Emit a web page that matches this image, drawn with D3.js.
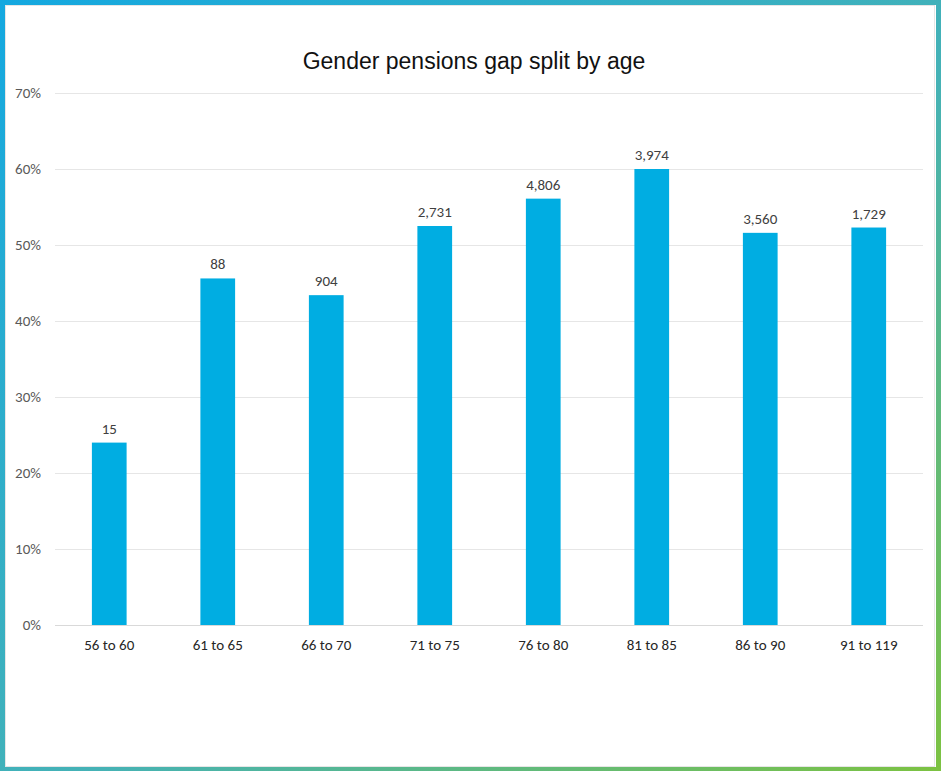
<!DOCTYPE html>
<html>
<head>
<meta charset="utf-8">
<script src="https://cdn.jsdelivr.net/npm/d3@7"></script>
<style>
  html, body { margin: 0; padding: 0; background: #fff; }
  svg { display: block; font-family: Carlito, Calibri, Lato, "Open Sans", sans-serif; }
</style>
</head>
<body>
<svg width="941" height="771"></svg>
<script>
const width = 941;
const height = 771;

// data
const ageBands = ["56 to 60", "61 to 65", "66 to 70", "71 to 75", "76 to 80", "81 to 85", "86 to 90", "91 to 119"];
const gapPct   = [24.0, 45.6, 43.4, 52.5, 56.1, 60.0, 51.6, 52.3];
const counts   = ["15", "88", "904", "2,731", "4,806", "3,974", "3,560", "1,729"];
const yTicks   = [0, 10, 20, 30, 40, 50, 60, 70];

const margin = { top: 93, right: 18, bottom: 146, left: 55 };
const labelFont = "Carlito, Calibri, Lato, sans-serif";

const svg = d3.select("svg");

// frame with diagonal gradient
const defs = svg.append("defs");
const grad = defs.append("linearGradient")
  .attr("id", "frame")
  .attr("x1", "0%").attr("y1", "0%")
  .attr("x2", "100%").attr("y2", "100%");
grad.append("stop").attr("offset", "0%").attr("stop-color", "#14a8e0");
grad.append("stop").attr("offset", "55%").attr("stop-color", "#45b2b6");
grad.append("stop").attr("offset", "100%").attr("stop-color", "#7cc242");

svg.append("rect")
  .attr("x", 2.5).attr("y", 2.5)
  .attr("width", width - 5).attr("height", height - 4)
  .attr("fill", "none")
  .attr("stroke", "url(#frame)")
  .attr("stroke-width", 5);

// faint inner shadow line
svg.append("rect")
  .attr("x", 5.5).attr("y", 5.5)
  .attr("width", width - 12).attr("height", height - 10)
  .attr("fill", "none")
  .attr("stroke", "#e6e6e6")
  .attr("stroke-width", 1);

const x = d3.scaleBand()
  .domain(ageBands)
  .range([margin.left, width - margin.right])
  .paddingInner(0.68)
  .paddingOuter(0.34);

const y = d3.scaleLinear()
  .domain([0, 70])
  .range([height - margin.bottom, margin.top]);

// gridlines
svg.append("g")
  .selectAll("line")
  .data(yTicks)
  .join("line")
    .attr("x1", margin.left)
    .attr("x2", width - margin.right)
    .attr("y1", d => Math.round(y(d)) + 0.5)
    .attr("y2", d => Math.round(y(d)) + 0.5)
    .attr("stroke", d => d === 0 ? "#d9d9d9" : "#e6e6e6")
    .attr("stroke-width", 1);

// y axis labels
const yAxis = d3.axisLeft(y)
  .tickValues(yTicks)
  .tickFormat(d => d + "%")
  .tickSize(0)
  .tickPadding(14);

svg.append("g")
  .attr("transform", `translate(${margin.left},0)`)
  .call(yAxis)
  .call(g => g.select(".domain").remove())
  .call(g => g.selectAll("text")
    .attr("fill", "#595959")
    .attr("font-size", 15)
    .attr("font-family", labelFont));

// x axis labels
const xAxis = d3.axisBottom(x).tickSize(0).tickPadding(14);

svg.append("g")
  .attr("transform", `translate(0,${height - margin.bottom})`)
  .call(xAxis)
  .call(g => g.select(".domain").remove())
  .call(g => g.selectAll("text")
    .attr("fill", "#262626")
    .attr("font-size", 15)
    .attr("font-family", labelFont));

// bars
svg.append("g")
  .selectAll("rect")
  .data(ageBands)
  .join("rect")
    .attr("x", d => x(d))
    .attr("y", (d, i) => y(gapPct[i]))
    .attr("width", x.bandwidth())
    .attr("height", (d, i) => y(0) - y(gapPct[i]))
    .attr("fill", "#00ade2");

// value labels
svg.append("g")
  .selectAll("text")
  .data(ageBands)
  .join("text")
    .attr("x", d => x(d) + x.bandwidth() / 2)
    .attr("y", (d, i) => y(gapPct[i]) - 9)
    .attr("text-anchor", "middle")
    .attr("font-size", 15)
    .attr("font-family", labelFont)
    .attr("fill", "#404040")
    .text((d, i) => counts[i]);

// title
svg.append("text")
  .attr("x", 474)
  .attr("y", 69)
  .attr("text-anchor", "middle")
  .attr("font-size", 23)
  .attr("font-family", "'Liberation Sans', Arial, sans-serif")
  .attr("fill", "#111")
  .text("Gender pensions gap split by age");
</script>
</body>
</html>
